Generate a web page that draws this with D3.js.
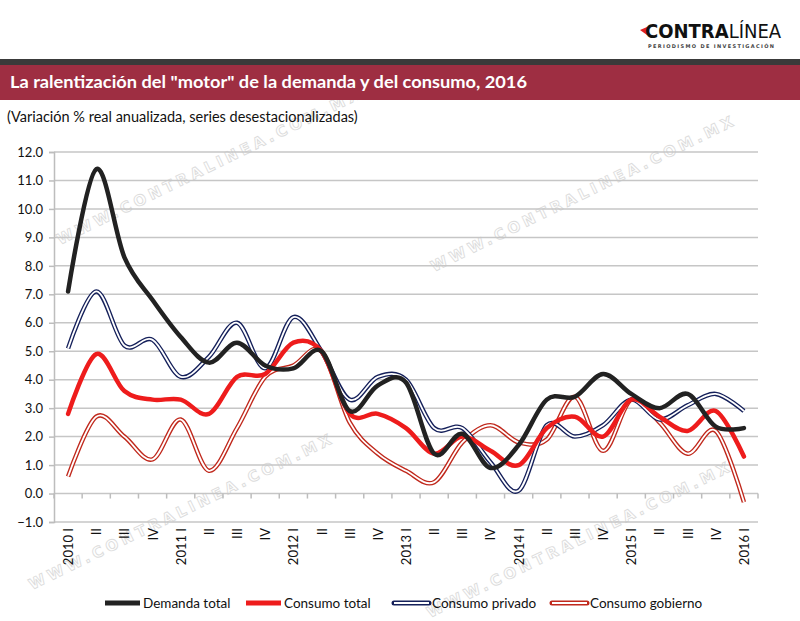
<!DOCTYPE html>
<html><head><meta charset="utf-8">
<script src="https://cdn.jsdelivr.net/npm/d3@7"></script>
<style>body{margin:0;background:#fff}svg{display:block}</style>
</head><body>
<svg id="c" width="800" height="621"></svg>
<script>
const categories = ["2010 I","II","III","IV","2011 I","II","III","IV","2012 I","II","III","IV","2013 I","II","III","IV","2014 I","II","III","IV","2015 I","II","III","IV","2016 I"];
const demandaTotal   = [7.1,11.4,8.3,6.8,5.5,4.6,5.3,4.5,4.4,5.0,2.9,3.8,3.9,1.4,2.1,0.9,1.7,3.3,3.4,4.2,3.5,3.0,3.5,2.35,2.3];
const consumoTotal   = [2.8,4.9,3.6,3.3,3.3,2.8,4.1,4.2,5.3,5.0,2.8,2.8,2.3,1.4,2.0,1.5,1.0,2.3,2.7,2.0,3.3,2.7,2.2,2.9,1.3];
const consumoPrivado = [5.1,7.1,5.2,5.4,4.1,4.8,6.0,4.4,6.2,5.0,3.3,4.1,4.0,2.3,2.3,1.1,0.1,2.4,2.0,2.4,3.3,2.6,3.1,3.5,2.9];
const consumoGob     = [0.6,2.7,2.0,1.2,2.6,0.8,2.3,4.1,4.5,5.0,2.5,1.4,0.8,0.4,1.8,2.4,1.8,1.9,3.4,1.5,3.3,2.5,1.4,2.2,-0.3];
const yTicks = [-1,0,1,2,3,4,5,6,7,8,9,10,11,12];
const seriesNames = ["Demanda total","Consumo total","Consumo privado","Consumo gobierno"];

const svg = d3.select("#c");
const font = "Lato, 'Open Sans', sans-serif";

// watermark
const wm = [[60,245],[434,272],[32,590],[430,618]];
wm.forEach(([x,y])=>{
  svg.append("text").attr("transform",`translate(${x},${y}) rotate(-26)`)
    .attr("font-family","Verdana, 'DejaVu Sans', sans-serif").attr("font-weight","bold")
    .attr("font-size",15).attr("letter-spacing",4)
    .attr("fill","#fff").attr("stroke","#dcdcdc").attr("stroke-width",0.9)
    .text("WWW.CONTRALINEA.COM.MX");
});

// header
svg.append("rect").attr("x",0).attr("y",59).attr("width",800).attr("height",6).attr("fill","#3a3a3a");
svg.append("rect").attr("x",0).attr("y",65).attr("width",800).attr("height",35).attr("fill","#9e2e42");
svg.append("text").attr("x",10).attr("y",88).attr("fill","#fff").attr("font-family",font)
  .attr("font-weight","bold").attr("font-size",17.5).attr("textLength",517).attr("lengthAdjust","spacingAndGlyphs")
  .text('La ralentización del "motor" de la demanda y del consumo, 2016');
svg.append("text").attr("x",7).attr("y",122).attr("fill","#111").attr("font-family",font)
  .attr("font-size",14.5).text("(Variación % real anualizada, series desestacionalizadas)");

// logo
const lg = svg.append("g");
lg.append("path").attr("d","M640,30 L647,27 L647,35 Z").attr("fill","#e02020");
const lt = lg.append("text").attr("x",645).attr("y",38).attr("font-family","'Liberation Sans Narrow','DejaVu Sans Condensed',sans-serif")
  .attr("font-size",20).attr("fill","#111");
lt.append("tspan").attr("font-weight","bold").text("CONTRA");
lt.append("tspan").attr("font-weight","normal").text("LÍNEA");
lg.append("text").attr("x",648).attr("y",48).attr("font-family","'DejaVu Sans',sans-serif")
  .attr("font-size",5).attr("font-weight","bold").attr("fill","#444").attr("textLength",126).attr("lengthAdjust","spacing").text("PERIODISMO DE INVESTIGACIÓN");

// scales (index-based band since labels repeat)
const idx = d3.range(categories.length);
const x = d3.scaleBand().domain(idx).range([54,758]).padding(0);
const cx = i => x(i) + x.bandwidth()/2;
const y = d3.scaleLinear().domain([-1,12]).range([522,152]);

// gridlines
svg.append("g").selectAll("line").data(yTicks).join("line")
  .attr("x1",54).attr("x2",758).attr("y1",d=>y(d)).attr("y2",d=>y(d))
  .attr("stroke","#c6c6c6").attr("stroke-width",1.5);

// y axis
const ya = svg.append("g").attr("transform","translate(54,0)")
  .call(d3.axisLeft(y).tickValues(yTicks).tickFormat(d3.format(".1f")).tickSize(5).tickPadding(6));
ya.select(".domain").attr("stroke","#bdbdbd").attr("stroke-width",1.5);
ya.selectAll(".tick line").attr("stroke","#bdbdbd").attr("stroke-width",1.5);
ya.selectAll("text").attr("font-family",font).attr("font-size",13).attr("fill","#111");

// x axis at 0: tick marks at band edges
const edges = d3.range(categories.length+1).map(i=>54+i*x.step());
svg.append("g").attr("transform",`translate(0,${y(0)})`).selectAll("line").data(edges).join("line")
  .attr("x1",d=>d).attr("x2",d=>d).attr("y1",0).attr("y2",5).attr("stroke","#bdbdbd").attr("stroke-width",1.5);

// x labels (rotated)
svg.append("g").selectAll("text").data(idx).join("text")
  .attr("transform",i=>`translate(${cx(i)+5},528) rotate(-90)`)
  .attr("text-anchor","end").attr("font-family",font).attr("font-size",13).attr("fill","#111")
  .text(i=>categories[i]);

// lines
const line = d3.line().x((d,i)=>cx(i)).y(d=>y(d)).curve(d3.curveCardinal.tension(0));
const g = svg.append("g");
g.append("path").attr("d",line(consumoGob)).attr("fill","none").attr("stroke","#c0281c").attr("stroke-width",4.5);
g.append("path").attr("d",line(consumoGob)).attr("fill","none").attr("stroke","#fff").attr("stroke-width",1.8);
g.append("path").attr("d",line(consumoPrivado)).attr("fill","none").attr("stroke","#15205a").attr("stroke-width",4.5);
g.append("path").attr("d",line(consumoPrivado)).attr("fill","none").attr("stroke","#fff").attr("stroke-width",1.8);
g.append("path").attr("d",line(consumoTotal)).attr("fill","none").attr("stroke","#ee1c1c").attr("stroke-width",4.5).attr("stroke-linecap","round");
g.append("path").attr("d",line(demandaTotal)).attr("fill","none").attr("stroke","#222").attr("stroke-width",4.5).attr("stroke-linecap","round");

// legend
const leg = [
  {name:seriesNames[0],x:105,c:"#222",dbl:false},
  {name:seriesNames[1],x:246,c:"#ee1c1c",dbl:false},
  {name:seriesNames[2],x:394,c:"#15205a",dbl:true},
  {name:seriesNames[3],x:552,c:"#c0281c",dbl:true}
];
const lgG = svg.append("g");
leg.forEach(l=>{
  lgG.append("line").attr("x1",l.x).attr("x2",l.x+35).attr("y1",603).attr("y2",603).attr("stroke",l.c).attr("stroke-width",5).attr("stroke-linecap",l.dbl?"round":"butt");
  if(l.dbl) lgG.append("line").attr("x1",l.x).attr("x2",l.x+35).attr("y1",603).attr("y2",603).attr("stroke","#fff").attr("stroke-width",2);
  lgG.append("text").attr("x",l.x+38).attr("y",608).attr("font-family",font).attr("font-size",13.5).attr("fill","#111").text(l.name);
});
</script>
</body></html>
